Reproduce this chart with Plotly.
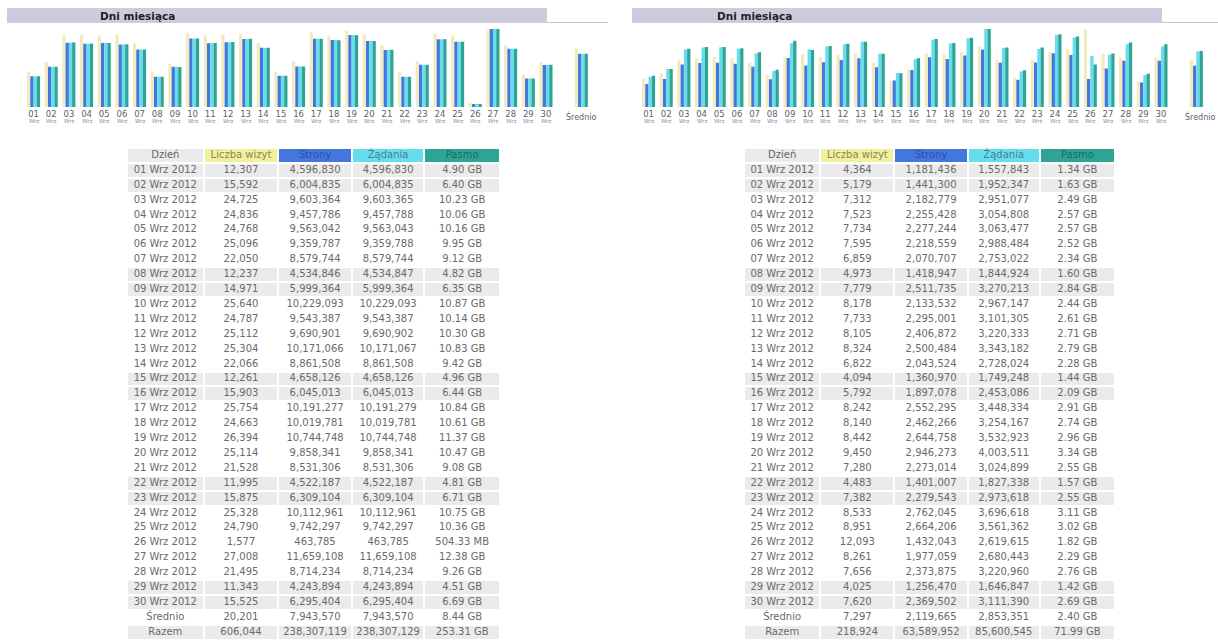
import plotly.graph_objects as go

W, H = 1218, 641

# ---------------- data ----------------
day_labels = ["01", "02", "03", "04", "05", "06", "07", "08", "09", "10",
              "11", "12", "13", "14", "15", "16", "17", "18", "19", "20",
              "21", "22", "23", "24", "25", "26", "27", "28", "29", "30"]
month_label = "Wrz"
year_label = "2012"
weekend_days = ["01", "02", "08", "09", "15", "16", "22", "23", "29", "30"]
col_headers = ["Dzień", "Liczba wizyt", "Strony", "Żądania", "Pasmo"]
avg_label = "Średnio"
total_label = "Razem"
title_text = "Dni miesiąca"

# left panel
visits_a = [12307, 15592, 24725, 24836, 24768, 25096, 22050, 12237, 14971, 25640,
            24787, 25112, 25304, 22066, 12261, 15903, 25754, 24663, 26394, 25114,
            21528, 11995, 15875, 25328, 24790, 1577, 27008, 21495, 11343, 15525]
pages_a = [4596830, 6004835, 9603364, 9457786, 9563042, 9359787, 8579744, 4534846, 5999364, 10229093,
           9543387, 9690901, 10171066, 8861508, 4658126, 6045013, 10191277, 10019781, 10744748, 9858341,
           8531306, 4522187, 6309104, 10112961, 9742297, 463785, 11659108, 8714234, 4243894, 6295404]
hits_a = [4596830, 6004835, 9603365, 9457788, 9563043, 9359788, 8579744, 4534847, 5999364, 10229093,
          9543387, 9690902, 10171067, 8861508, 4658126, 6045013, 10191279, 10019781, 10744748, 9858341,
          8531306, 4522187, 6309104, 10112961, 9742297, 463785, 11659108, 8714234, 4243894, 6295404]
bw_a = ["4.90 GB", "6.40 GB", "10.23 GB", "10.06 GB", "10.16 GB", "9.95 GB", "9.12 GB", "4.82 GB",
        "6.35 GB", "10.87 GB", "10.14 GB", "10.30 GB", "10.83 GB", "9.42 GB", "4.96 GB", "6.44 GB",
        "10.84 GB", "10.61 GB", "11.37 GB", "10.47 GB", "9.08 GB", "4.81 GB", "6.71 GB", "10.75 GB",
        "10.36 GB", "504.33 MB", "12.38 GB", "9.26 GB", "4.51 GB", "6.69 GB"]
avg_a = [20201, 7943570, 7943570, "8.44 GB"]
total_a = [606044, 238307119, 238307129, "253.31 GB"]

# right panel
visits_b = [4364, 5179, 7312, 7523, 7734, 7595, 6859, 4973, 7779, 8178,
            7733, 8105, 8324, 6822, 4094, 5792, 8242, 8140, 8442, 9450,
            7280, 4483, 7382, 8533, 8951, 12093, 8261, 7656, 4025, 7620]
pages_b = [1181436, 1441300, 2182779, 2255428, 2277244, 2218559, 2070707, 1418947, 2511735, 2133532,
           2295001, 2406872, 2500484, 2043524, 1360970, 1897078, 2552295, 2462266, 2644758, 2946273,
           2273014, 1401007, 2279543, 2762045, 2664206, 1432043, 1977059, 2373875, 1256470, 2369502]
hits_b = [1557843, 1952347, 2951077, 3054808, 3063477, 2988484, 2753022, 1844924, 3270213, 2967147,
          3101305, 3220333, 3343182, 2728024, 1749248, 2453086, 3448334, 3254167, 3532923, 4003511,
          3024899, 1827338, 2973618, 3696618, 3561362, 2619615, 2680443, 3220960, 1646847, 3111390]
bw_b = ["1.34 GB", "1.63 GB", "2.49 GB", "2.57 GB", "2.57 GB", "2.52 GB", "2.34 GB", "1.60 GB",
        "2.84 GB", "2.44 GB", "2.61 GB", "2.71 GB", "2.79 GB", "2.28 GB", "1.44 GB", "2.09 GB",
        "2.91 GB", "2.74 GB", "2.96 GB", "3.34 GB", "2.55 GB", "1.57 GB", "2.55 GB", "3.11 GB",
        "3.02 GB", "1.82 GB", "2.29 GB", "2.76 GB", "1.42 GB", "2.69 GB"]
avg_b = [7297, 2119665, 2853351, "2.40 GB"]
total_b = [218924, 63589952, 85600545, "71.99 GB"]

# ---------------- styling ----------------
C_VIS_BAR = "#F2EBBE"
C_VIS_HDR = "#F3F09C"
C_PAGES = "#4477DD"
C_HITS = "#66DDEE"
C_BW = "#2EA495"
C_GRAY = "#EBEBEB"
C_TITLE = "#CDCCDF"
FONT = "DejaVu Sans"
CELL_COLORS = ["#FFFFFF", C_GRAY, C_VIS_HDR, C_PAGES, C_HITS, C_BW]
HDR_TEXT_COLORS = ["#666666", "#8a8560", "#2a4fae", "#4a7f8a", "#1c6e62"]
COL_W = [74, 72, 71, 70, 73]


def px(x):
    return x / W


def py(y):
    return 1 - y / H


def to_gb(s):
    v, u = s.split()
    return float(v) / 1024 if u == "MB" else float(v)


fig = go.Figure()

panels = [
    dict(vis=visits_a, pag=pages_a, hit=hits_a, bw=bw_a, avg=avg_a, tot=total_a,
         xl=24.7, title_x0=7, title_x1=547, line_x1=608, text_x=98,
         tab_x0=127, tab_x1=500, avg_lbl_x=0),
    dict(vis=visits_b, pag=pages_b, hit=hits_b, bw=bw_b, avg=avg_b, tot=total_b,
         xl=639.7, title_x0=632, title_x1=1162, line_x1=1218, text_x=715,
         tab_x0=744, tab_x1=1115, avg_lbl_x=4),
]

spacing = 17.67
n_units = 32
base_y = 107
top_y = 29
xpos = list(range(1, 31)) + [32]
bw_w = 0.185
offsets = [-0.37, -0.185, 0.0, 0.185]
row_h = 14.9
tab_top = 148
n_rows = 33

shapes = []
annotations = []
layout_axes = {}

col_edges = [0]
for w_ in COL_W:
    col_edges.append(col_edges[-1] + w_)
col_centers = [(col_edges[k] + col_edges[k + 1]) / 2 for k in range(5)]
colorscale = [[k / 5, c] for k, c in enumerate(CELL_COLORS)]

for i, p in enumerate(panels):
    xa = "x" if i == 0 else "x2"
    xa_name = "xaxis" if i == 0 else "xaxis2"
    ya_ids = [1, 2, 3] if i == 0 else [4, 5, 6]
    ya_refs = ["y" if k == 1 else f"y{k}" for k in ya_ids]
    ya_names = ["yaxis" if k == 1 else f"yaxis{k}" for k in ya_ids]

    vis = p["vis"] + [p["avg"][0]]
    pag = p["pag"] + [p["avg"][1]]
    hit = p["hit"] + [p["avg"][2]]
    bwv = [to_gb(s) for s in p["bw"]] + [to_gb(p["avg"][3])]

    series = [
        (vis, C_VIS_BAR, ya_refs[0]),
        (pag, C_PAGES, ya_refs[1]),
        (hit, C_HITS, ya_refs[1]),
        (bwv, C_BW, ya_refs[2]),
    ]
    for (vals, col, yref), off in zip(series, offsets):
        fig.add_trace(go.Bar(
            x=xpos, y=vals, xaxis=xa, yaxis=yref,
            width=bw_w, offset=off, marker=dict(color=col, line=dict(width=0)),
            hoverinfo="skip", showlegend=False,
        ))

    x0 = p["xl"]
    x1 = x0 + n_units * spacing
    layout_axes[xa_name] = dict(
        domain=[px(x0), px(x1)], range=[0.5, 32.5], anchor=ya_refs[0],
        tickmode="array", tickvals=list(range(1, 31)), ticktext=day_labels,
        tickfont=dict(family=FONT, size=8.5, color="#5a6070"),
        ticks="", showgrid=False, zeroline=False, showline=False, fixedrange=True,
    )
    ranges = [max(p["vis"]), max(p["hit"]), max(to_gb(s) for s in p["bw"])]
    for j, (yn, rg) in enumerate(zip(ya_names, ranges)):
        d = dict(domain=[py(base_y), py(top_y)], range=[0, rg], visible=False,
                 showgrid=False, zeroline=False, fixedrange=True, anchor=xa)
        if j > 0:
            d["overlaying"] = ya_refs[0]
        layout_axes[yn] = d

    # month labels under day numbers
    for d in range(1, 31):
        annotations.append(dict(
            x=d, xref=xa, y=py(120.5), yref="paper", text=month_label,
            showarrow=False, font=dict(family=FONT, size=5.5, color="#8a8f99"),
            xanchor="center", yanchor="middle",
        ))
    annotations.append(dict(
        x=32, xref=xa, y=py(117), yref="paper", text=avg_label, xshift=p["avg_lbl_x"],
        showarrow=False, font=dict(family=FONT, size=8, color="#5a6070"),
        xanchor="center", yanchor="middle",
    ))

    # title bar
    shapes.append(dict(type="rect", xref="paper", yref="paper",
                       x0=px(p["title_x0"]), x1=px(p["title_x1"]), y0=py(23), y1=py(8),
                       fillcolor=C_TITLE, line=dict(width=0), layer="below"))
    shapes.append(dict(type="line", xref="paper", yref="paper",
                       x0=px(p["title_x1"]), x1=px(p["line_x1"]), y0=py(22.5), y1=py(22.5),
                       line=dict(color="#C4C4CC", width=1)))
    annotations.append(dict(
        x=px(p["text_x"]), y=py(15.5), xref="paper", yref="paper", text=f"<b>{title_text}</b>",
        showarrow=False, xanchor="left", yanchor="middle",
        font=dict(family=FONT, size=10.5, color="#222222"),
    ))

    # ---------- table (heatmap cells + text) ----------
    txa = "x3" if i == 0 else "x4"
    txa_name = "xaxis3" if i == 0 else "xaxis4"
    tya = "y7" if i == 0 else "y8"
    tya_name = "yaxis7" if i == 0 else "yaxis8"

    date_col = [f"{d} {month_label} {year_label}" for d in day_labels] + [avg_label, total_label]
    vis_col = [f"{v:,}" for v in p["vis"]] + [f"{p['avg'][0]:,}", f"{p['tot'][0]:,}"]
    pag_col = [f"{v:,}" for v in p["pag"]] + [f"{p['avg'][1]:,}", f"{p['tot'][1]:,}"]
    hit_col = [f"{v:,}" for v in p["hit"]] + [f"{p['avg'][2]:,}", f"{p['tot'][2]:,}"]
    bw_col = list(p["bw"]) + [p["avg"][3], p["tot"][3]]
    body_cols = [date_col, vis_col, pag_col, hit_col, bw_col]

    row_codes = [1 if d in weekend_days else 0 for d in day_labels] + [0, 1]
    z = [[1, 2, 3, 4, 5]] + [[c] * 5 for c in row_codes]

    fig.add_trace(go.Heatmap(
        z=z, x=col_edges, y=list(range(n_rows + 1)), xaxis=txa, yaxis=tya,
        zmin=0, zmax=5, colorscale=colorscale, showscale=False,
        xgap=2, ygap=2, hoverinfo="skip",
    ))
    # header text
    fig.add_trace(go.Scatter(
        x=col_centers, y=[0.5] * 5, xaxis=txa, yaxis=tya, mode="text",
        text=col_headers, textposition="middle center",
        textfont=dict(family=FONT, size=10, color=HDR_TEXT_COLORS),
        hoverinfo="skip", showlegend=False, cliponaxis=False,
    ))
    # body text
    bx, by, bt = [], [], []
    for c in range(5):
        for r, val in enumerate(body_cols[c]):
            bx.append(col_centers[c])
            by.append(r + 1.5)
            bt.append(val)
    fig.add_trace(go.Scatter(
        x=bx, y=by, xaxis=txa, yaxis=tya, mode="text",
        text=bt, textposition="middle center",
        textfont=dict(family=FONT, size=10, color="#6a6a6a"),
        hoverinfo="skip", showlegend=False, cliponaxis=False,
    ))

    layout_axes[txa_name] = dict(
        domain=[px(p["tab_x0"]), px(p["tab_x1"])], range=[0, col_edges[-1]],
        visible=False, fixedrange=True, anchor=tya,
    )
    layout_axes[tya_name] = dict(
        domain=[py(tab_top + n_rows * row_h), py(tab_top)], range=[n_rows, 0],
        visible=False, fixedrange=True, anchor=txa,
    )

fig.update_layout(
    width=W, height=H, autosize=False,
    margin=dict(l=0, r=0, t=0, b=0, pad=0),
    paper_bgcolor="white", plot_bgcolor="white",
    barmode="overlay", showlegend=False,
    shapes=shapes, annotations=annotations,
    **layout_axes,
)

fig.write_html(
    "out.html",
    config={"displayModeBar": False},
    post_script="document.body.style.margin='0';document.body.style.overflow='hidden';",
)
